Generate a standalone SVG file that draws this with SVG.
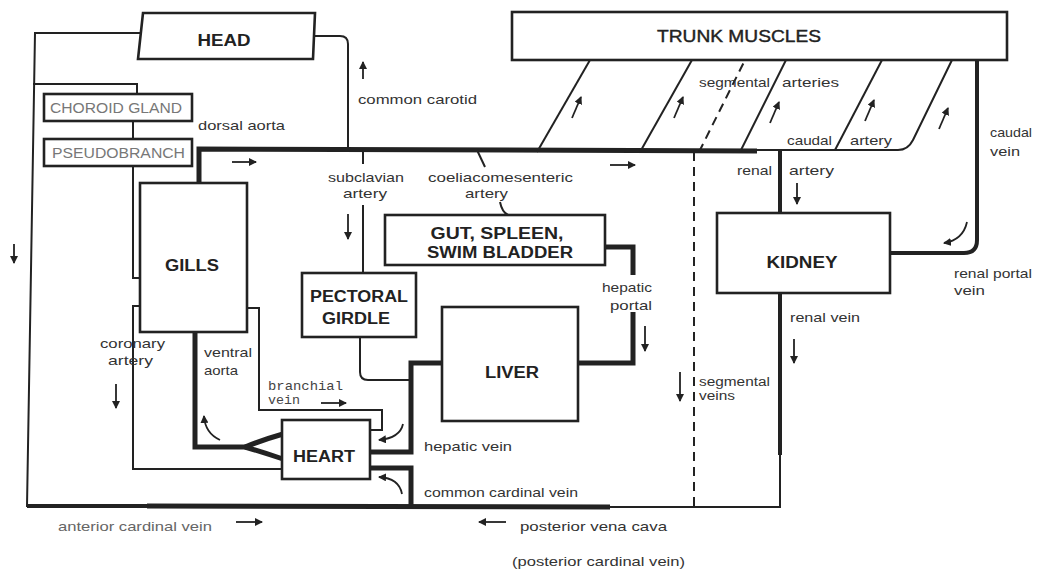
<svg xmlns="http://www.w3.org/2000/svg" width="1037" height="569" viewBox="0 0 1037 569">
<defs>
<marker id="ah" markerUnits="userSpaceOnUse" markerWidth="9" markerHeight="8" refX="7" refY="4" orient="auto">
<path d="M0,0 L8,4 L0,8 Z" fill="#222"/>
</marker>
<style>
.box{fill:#fff;stroke:#222;stroke-width:2.6}
.thin{fill:none;stroke:#222;stroke-width:2}
.thick{fill:none;stroke:#222;stroke-width:5}
.med{fill:none;stroke:#222;stroke-width:4}
.dash{fill:none;stroke:#222;stroke-width:2;stroke-dasharray:9,6}
.arr{fill:none;stroke:#222;stroke-width:1.8;marker-end:url(#ah)}
.bl{font-family:"Liberation Sans",Arial,sans-serif;font-weight:bold;font-size:16px;fill:#222;text-anchor:middle}
.gl{font-family:"Liberation Sans",Arial,sans-serif;font-size:14px;fill:#777}
.lb{font-family:"Liberation Sans",Arial,sans-serif;font-size:13px;fill:#333}
.lg{font-family:"Liberation Sans",Arial,sans-serif;font-size:13px;fill:#666}
.mono{font-family:"Liberation Mono",monospace;font-size:13px;fill:#444}
</style>
</defs>

<g id="connectors">
<path class="thin" d="M140,33 L35,33 L27,506 L147,506"/>
<path class="med" d="M27,506 L147,506"/>
<path class="thick" d="M147,506 L610,507"/>
<path class="thin" d="M610,507 L780,507 L780,455"/>
<path class="thin" d="M33,84 L137,84 L137,94"/>
<path class="thin" d="M133,121 L133,139"/>
<path class="thin" d="M133,166 L133,278 L140,278"/>
<path class="thin" d="M140,306 L133,306 L133,469 L282,469"/>
<path class="thick" d="M199,183 L199,149 L757,151"/>
<path class="thin" d="M314,36 L340,36 Q348,36 348,44 L348,149"/>
<path class="thin" d="M363,150 L363,164"/>
<path class="thin" d="M363,205 L363,273"/>
<path class="thin" d="M360,337 L360,372 Q360,380 368,380 L411,380"/>
<path class="thin" d="M477,150 L485,167"/>
<path class="thin" d="M500,202 Q502,212 508,215"/>
<path class="thick" d="M604,247 L633,247 L633,275"/>
<path class="thick" d="M633,312 L633,363 L578,363"/>
<path class="thick" d="M442,363 L411,363 L411,452 L370,452"/>
<path class="thick" d="M370,468 L411,468 L411,507"/>
<path class="thick" d="M195,332 L195,447 L247,447"/>
<path class="thick" d="M245,447 Q262,440 283,434"/>
<path class="thick" d="M245,447 Q262,452 283,459"/>
<path class="thin" d="M247,308 L259,308 L259,410 L382,410 L382,430 L370,430"/>
<path class="thin" d="M537,152 L590,60"/>
<path class="thin" d="M640,152 L692,60"/>
<path class="dash" d="M699,152 L745,60"/>
<path class="thin" d="M740,152 L786,60"/>
<path class="thin" d="M835,150 L882,60"/>
<path class="thin" d="M757,150 L898,150 Q908,150 913,140 L952,60"/>
<path class="dash" d="M694,152 L694,507"/>
<path class="med" d="M780,151 L780,213"/>
<path class="med" d="M780,293 L780,455"/>
<path class="med" d="M977,60 L977,240 Q977,253 964,253 L890,253"/>

<path class="arr" d="M363,79 L363,62"/>
<path class="arr" d="M232,162 L256,162"/>
<path class="arr" d="M348,214 L348,239"/>
<path class="arr" d="M610,165 L635,165"/>
<path class="arr" d="M797,183 L797,204"/>
<path class="arr" d="M645,326 L645,351"/>
<path class="arr" d="M794,339 L794,363"/>
<path class="arr" d="M680,372 L680,401"/>
<path class="arr" d="M14,244 L14,263"/>
<path class="arr" d="M116,384 L116,408"/>
<path class="arr" d="M321,403 L346,403"/>
<path class="arr" d="M236,522 L262,522"/>
<path class="arr" d="M506,522 L479,522"/>
<path class="arr" d="M572,118 L581,97"/>
<path class="arr" d="M674,118 L683,97"/>
<path class="arr" d="M770,123 L779,102"/>
<path class="arr" d="M865,121 L874,100"/>
<path class="arr" d="M939,129 L948,108"/>
<path class="arr" d="M220,440 Q205,433 204,416"/>
<path class="arr" d="M403,424 Q400,438 379,440"/>
<path class="arr" d="M402,494 Q399,478 379,477"/>
<path class="arr" d="M967,222 Q963,240 944,243"/>
</g>

<g id="head"><polygon class="box" points="143,13 315,13 313,59 138,59"/><text class="bl" x="224" y="46" textLength="53" lengthAdjust="spacingAndGlyphs">HEAD</text></g>
<g id="trunk-muscles"><rect class="box" x="512" y="12" width="495" height="48"/><text class="bl" x="739" y="42" textLength="164" lengthAdjust="spacingAndGlyphs" style="font-weight:normal;font-size:17px;stroke:#222;stroke-width:0.4">TRUNK MUSCLES</text></g>
<g id="choroid-gland"><rect class="box" x="44" y="94" width="148" height="27"/><text class="gl" x="50" y="113" textLength="132" lengthAdjust="spacingAndGlyphs">CHOROID GLAND</text></g>
<g id="pseudobranch"><rect class="box" x="44" y="139" width="148" height="27"/><text class="gl" x="52" y="158" textLength="133" lengthAdjust="spacingAndGlyphs">PSEUDOBRANCH</text></g>
<g id="gills"><rect class="box" x="140" y="183" width="107" height="149"/><text class="bl" x="192" y="271" textLength="54" lengthAdjust="spacingAndGlyphs">GILLS</text></g>
<g id="pectoral-girdle"><rect class="box" x="302" y="273" width="114" height="64"/><text class="bl" x="359" y="302" textLength="98" lengthAdjust="spacingAndGlyphs">PECTORAL</text><text class="bl" x="356" y="324" textLength="68" lengthAdjust="spacingAndGlyphs">GIRDLE</text></g>
<g id="gut"><rect class="box" x="385" y="215" width="220" height="50"/><text class="bl" x="497" y="239" textLength="133" lengthAdjust="spacingAndGlyphs">GUT, SPLEEN,</text><text class="bl" x="500" y="258" textLength="146" lengthAdjust="spacingAndGlyphs">SWIM BLADDER</text></g>
<g id="liver"><rect class="box" x="442" y="307" width="136" height="114"/><text class="bl" x="512" y="378" textLength="54" lengthAdjust="spacingAndGlyphs">LIVER</text></g>
<g id="heart"><rect class="box" x="282" y="420" width="88" height="59"/><text class="bl" x="324" y="462" textLength="62" lengthAdjust="spacingAndGlyphs">HEART</text></g>
<g id="kidney"><rect class="box" x="717" y="213" width="173" height="80"/><text class="bl" x="802" y="268" textLength="71" lengthAdjust="spacingAndGlyphs">KIDNEY</text></g>

<g id="labels">
<text class="lb" x="358" y="104" textLength="119" lengthAdjust="spacingAndGlyphs">common carotid</text>
<text class="lb" x="198" y="130" textLength="87" lengthAdjust="spacingAndGlyphs">dorsal aorta</text>
<text class="lb" x="328" y="182" textLength="76" lengthAdjust="spacingAndGlyphs">subclavian</text>
<text class="lb" x="343" y="198" textLength="44" lengthAdjust="spacingAndGlyphs">artery</text>
<text class="lb" x="428" y="182" textLength="145" lengthAdjust="spacingAndGlyphs">coeliacomesenteric</text>
<text class="lb" x="465" y="198" textLength="43" lengthAdjust="spacingAndGlyphs">artery</text>
<text class="lb" x="699" y="87" textLength="71" lengthAdjust="spacingAndGlyphs">segmental</text>
<text class="lb" x="782" y="87" textLength="57" lengthAdjust="spacingAndGlyphs">arteries</text>
<text class="lb" x="787" y="145" textLength="45" lengthAdjust="spacingAndGlyphs">caudal</text>
<text class="lb" x="850" y="145" textLength="42" lengthAdjust="spacingAndGlyphs">artery</text>
<text class="lb" x="990" y="137" textLength="42" lengthAdjust="spacingAndGlyphs">caudal</text>
<text class="lb" x="990" y="156" textLength="30" lengthAdjust="spacingAndGlyphs">vein</text>
<text class="lb" x="737" y="175" textLength="35" lengthAdjust="spacingAndGlyphs">renal</text>
<text class="lb" x="789" y="175" textLength="45" lengthAdjust="spacingAndGlyphs">artery</text>
<text class="lb" x="602" y="292" textLength="50" lengthAdjust="spacingAndGlyphs">hepatic</text>
<text class="lb" x="610" y="310" textLength="42" lengthAdjust="spacingAndGlyphs">portal</text>
<text class="lb" x="954" y="278" textLength="78" lengthAdjust="spacingAndGlyphs">renal portal</text>
<text class="lb" x="954" y="295" textLength="31" lengthAdjust="spacingAndGlyphs">vein</text>
<text class="lb" x="790" y="322" textLength="70" lengthAdjust="spacingAndGlyphs">renal vein</text>
<text class="lb" x="699" y="386" style="font-size:12px" textLength="71" lengthAdjust="spacingAndGlyphs">segmental</text>
<text class="lb" x="699" y="400" style="font-size:12px" textLength="36" lengthAdjust="spacingAndGlyphs">veins</text>
<text class="lb" x="100" y="348" textLength="65" lengthAdjust="spacingAndGlyphs">coronary</text>
<text class="lb" x="108" y="365" textLength="45" lengthAdjust="spacingAndGlyphs">artery</text>
<text class="lb" x="204" y="357" textLength="48" lengthAdjust="spacingAndGlyphs">ventral</text>
<text class="lb" x="204" y="375" textLength="34" lengthAdjust="spacingAndGlyphs">aorta</text>
<text class="mono" x="268" y="390" textLength="75" lengthAdjust="spacingAndGlyphs">branchial</text>
<text class="mono" x="268" y="404" textLength="32" lengthAdjust="spacingAndGlyphs">vein</text>
<text class="lb" x="424" y="451" textLength="88" lengthAdjust="spacingAndGlyphs">hepatic vein</text>
<text class="lb" x="424" y="497" textLength="154" lengthAdjust="spacingAndGlyphs">common cardinal vein</text>
<text class="lg" x="58" y="531" textLength="154" lengthAdjust="spacingAndGlyphs">anterior cardinal vein</text>
<text class="lb" x="520" y="531" textLength="147" lengthAdjust="spacingAndGlyphs">posterior vena cava</text>
<text class="lb" x="512" y="566" textLength="173" lengthAdjust="spacingAndGlyphs">(posterior cardinal vein)</text>
</g>
</svg>
